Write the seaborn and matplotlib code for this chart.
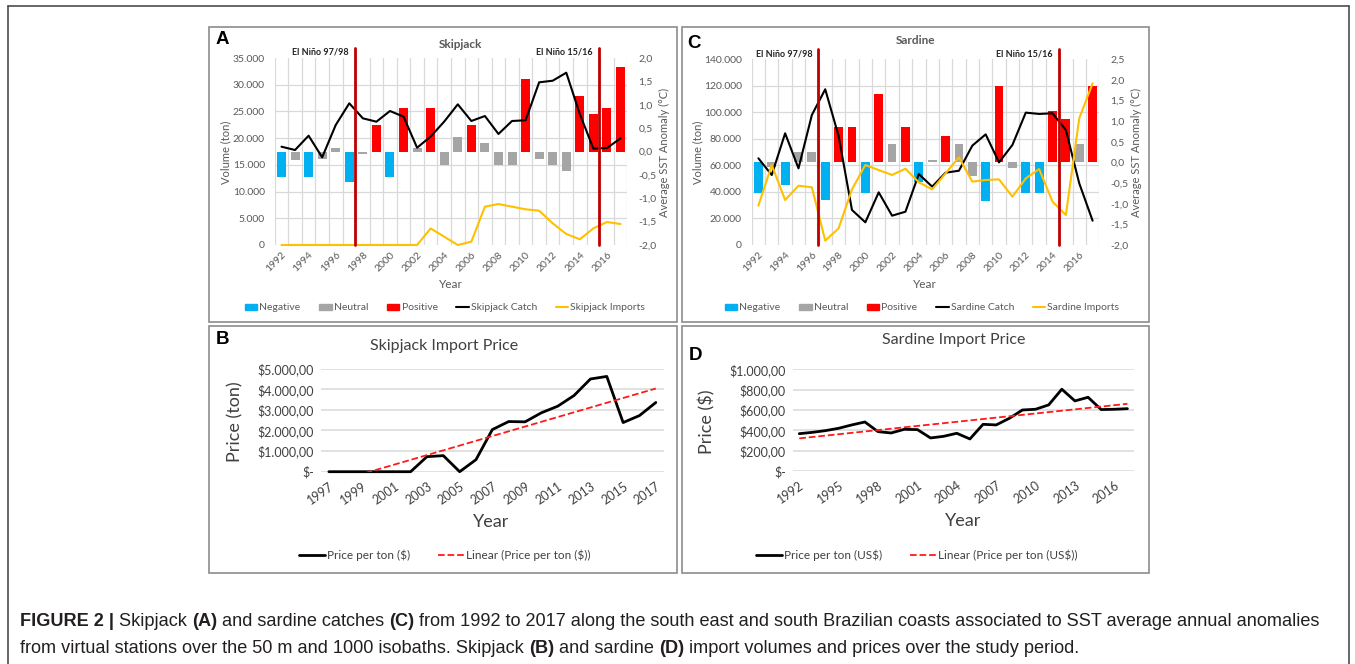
import numpy as np
import pandas as pd
import matplotlib
matplotlib.use("Agg")
import matplotlib.pyplot as plt
import seaborn as sns
from matplotlib.patches import Patch, Rectangle
from matplotlib.lines import Line2D
from matplotlib.ticker import FuncFormatter

# ---- data ----
years = np.arange(1992, 2018)
classes = ['Negative', 'Neutral', 'Positive']

skj_anom = [-0.54, -0.18, -0.54, -0.17, 0.08, -0.66, -0.05, 0.56, -0.54, 0.94, 0.08, 0.94, -0.29,
            0.32, 0.56, 0.19, -0.29, -0.29, 1.56, -0.16, -0.29, -0.41, 1.19, 0.81, 0.94, 1.81]
skj_class = ['Negative', 'Neutral', 'Negative', 'Neutral', 'Neutral', 'Negative', 'Neutral', 'Positive',
             'Negative', 'Positive', 'Neutral', 'Positive', 'Neutral', 'Neutral', 'Positive', 'Neutral',
             'Neutral', 'Neutral', 'Positive', 'Neutral', 'Neutral', 'Neutral', 'Positive', 'Positive',
             'Positive', 'Positive']
skj_catch = [18400, 17780, 20460, 16410, 22460, 26520, 23710, 23080, 25080, 24020, 18210, 20300, 23100,
             26330, 23210, 24140, 20780, 23210, 23340, 30450, 30750, 32250, 24500, 18030, 18150, 19960]
skj_imports = [0, 0, 0, 0, 0, 0, 0, 0, 0, 0, 0, 3100, 1550, 0, 620, 7170, 7670, 7170, 6680, 6420,
               4050, 2060, 1060, 3120, 4300, 3930]

sar_anom = [-0.73, -0.10, -0.55, 0.26, 0.26, -0.92, 0.85, 0.85, -0.73, 1.66, 0.45, 0.85, -0.48,
            0.06, 0.65, 0.45, -0.34, -0.93, 1.85, -0.14, -0.73, -0.73, 1.25, 1.05, 0.45, 1.85]
sar_class = ['Negative', 'Neutral', 'Negative', 'Neutral', 'Neutral', 'Negative', 'Positive', 'Positive',
             'Negative', 'Positive', 'Neutral', 'Positive', 'Negative', 'Neutral', 'Positive', 'Neutral',
             'Neutral', 'Negative', 'Positive', 'Neutral', 'Negative', 'Negative', 'Positive', 'Positive',
             'Neutral', 'Positive']
sar_catch = [65360, 52770, 84200, 57800, 98000, 117400, 82200, 26400, 17100, 39700, 22100, 25100, 53500,
             44000, 54500, 56000, 74900, 83400, 62300, 75400, 99800, 98800, 99300, 86700, 46500, 18300]
sar_imports = [29650, 60300, 33900, 44700, 43500, 3300, 12550, 41950, 60300, 56500, 52800, 57500, 47250,
               41950, 54000, 66100, 47800, 49000, 49500, 36400, 50200, 57300, 32700, 22600, 95500, 121900]

skj_price_years = np.arange(1997, 2018)
skj_price = [0, 0, 0, 0, 0, 0, 730, 780, 0, 585, 2045, 2435, 2420, 2860, 3180, 3700, 4500, 4625,
             2385, 2725, 3360]

sar_price_years = np.arange(1992, 2018)
sar_price = [367, 380, 397, 420, 453, 482, 387, 374, 410, 407, 325, 341, 371, 315, 459, 453, 518,
             600, 607, 650, 804, 689, 725, 604, 607, 613]

# ---- style ----
sns.set_theme(style='white')
plt.rcParams['font.family'] = ['Lato', 'DejaVu Sans']

W, H = 1355, 664
fig = plt.figure(figsize=(W / 100, H / 100), dpi=100)

GRAY_TXT = '#595959'
DARK_TXT = '#404040'
GRID = '#D9D9D9'
palette = {'Negative': '#00B0F0', 'Neutral': '#A5A5A5', 'Positive': '#FF0000'}


def px_rect(x0, y0, x1, y1):
    return [x0 / W, 1 - y1 / H, (x1 - x0) / W, (y1 - y0) / H]


def ftext(x, y, s, **kw):
    return fig.text(x / W, 1 - y / H, s, **kw)


def thousands(v, pos=None):
    return f"{v:,.0f}".replace(',', '.')


def one_dec(v, pos=None):
    return f"{v:.1f}".replace('.', ',')


def dollars(v, pos=None):
    if abs(v) < 1e-9:
        return '$-'
    s = f"${v:,.2f}"
    return s.replace(',', 'X').replace('.', ',').replace('X', '.')


def catch_panel(rect, anom, cls, catch, imports, vmax, amin, amax, ninos):
    ax = fig.add_axes(px_rect(*rect))
    df = pd.DataFrame({'year': years, 'anomaly': anom, 'class': cls})
    sns.barplot(data=df, x='year', y='anomaly', hue='class', hue_order=classes, palette=palette,
                dodge=False, width=0.66, saturation=1, linewidth=0, errorbar=None, legend=False, ax=ax)
    ax2 = ax.twinx()
    pos = np.arange(len(years))
    sns.lineplot(x=pos, y=catch, color='black', lw=1.5, ax=ax2, clip_on=False)
    sns.lineplot(x=pos, y=imports, color='#FFC000', lw=1.5, ax=ax2, clip_on=False)

    ax.set_ylim(amin, amax)
    ax2.set_ylim(0, vmax)
    ax.set_xlim(-0.5, len(years) - 0.5)
    ax2.set_xlim(-0.5, len(years) - 0.5)

    # anomaly axis on the right, volume axis on the left
    ax.yaxis.tick_right()
    ax.yaxis.set_label_position('right')
    ax2.yaxis.tick_left()
    ax2.yaxis.set_label_position('left')
    ax.set_yticks(np.arange(amin, amax + 0.01, 0.5))
    ax.yaxis.set_major_formatter(FuncFormatter(one_dec))
    ax2.set_yticks(np.linspace(0, vmax, 8))
    ax2.yaxis.set_major_formatter(FuncFormatter(thousands))

    # gridlines (drawn below the bars, following the volume axis)
    ax.set_axisbelow(True)
    ax.set_yticks(amin + (amax - amin) * np.linspace(0, 1, 8), minor=True)
    ax.set_xticks(np.arange(-0.5, len(years)), minor=True)
    ax.grid(which='minor', color=GRID, lw=0.9)
    ax.grid(which='major', visible=False)

    ax.set_xticks(pos[::2])
    ax.set_xticklabels(years[::2], rotation=45, ha='right', rotation_mode='anchor')
    ax.tick_params(which='both', length=0)
    ax.tick_params(axis='x', labelsize=7.5, labelcolor=GRAY_TXT, pad=4)
    ax.tick_params(axis='y', labelsize=7.5, labelcolor=GRAY_TXT, pad=8)
    ax2.tick_params(axis='y', length=0, labelsize=7.5, labelcolor=GRAY_TXT, pad=7)
    for a in (ax, ax2):
        a.set_xlabel('')
        a.set_ylabel('')
        for sp in a.spines.values():
            sp.set_visible(False)

    trans = ax2.get_xaxis_transform()
    for x, label in ninos:
        ax2.axvline(x, ymin=0, ymax=1.055, color='#C00000', lw=2, clip_on=False)
        ax2.text(x - 0.45, 1.03, label, transform=trans, ha='right', va='center',
                 fontsize=6.5, fontweight='bold', color='#222222')
    return ax, ax2


def price_panel(rect, yrs, price, ymax, step, xstep):
    ax = fig.add_axes(px_rect(*rect))
    sns.lineplot(x=yrs, y=price, color='black', lw=2, ax=ax, clip_on=False)
    sns.regplot(x=yrs, y=price, scatter=False, ci=None, truncate=True, ax=ax,
                line_kws=dict(color='#FF1A1A', ls='--', lw=1.3))
    ax.set_xlim(yrs[0] - 0.5, yrs[-1] + 0.5)
    ax.set_ylim(0, ymax)
    ax.set_yticks(np.arange(0, ymax + 1, step))
    ax.yaxis.set_major_formatter(FuncFormatter(dollars))
    ax.set_xticks(yrs[::xstep])
    ax.set_xticklabels(yrs[::xstep], rotation=35, ha='right', rotation_mode='anchor')
    ax.grid(axis='y', color=GRID, lw=1.1)
    ax.grid(axis='x', visible=False)
    ax.tick_params(length=0, labelsize=9, labelcolor=DARK_TXT)
    ax.tick_params(axis='x', pad=6)
    ax.tick_params(axis='y', pad=5)
    ax.set_xlabel('')
    ax.set_ylabel('')
    for sp in ax.spines.values():
        sp.set_visible(False)
    return ax


# ---- panel A ----
catch_panel((274.7, 58, 627.3, 245), skj_anom, skj_class, skj_catch, skj_imports,
            35000, -2.0, 2.0, [(5.42, 'El Niño 97/98'), (23.42, 'El Niño 15/16')])
# ---- panel C ----
catch_panel((751.7, 59.3, 1099.3, 245), sar_anom, sar_class, sar_catch, sar_imports,
            140000, -2.0, 2.5, [(4.47, 'El Niño 97/98'), (22.48, 'El Niño 15/16')])
# ---- panel B ----
price_panel((320.7, 368.7, 664, 471.7), skj_price_years, skj_price, 5000, 1000, 2)
# ---- panel D ----
price_panel((792.7, 369.3, 1134, 471), sar_price_years, sar_price, 1000, 200, 3)

# panel texts
for x, y, s in [(460, 45, 'Skipjack'), (916, 41, 'Sardine')]:
    ftext(x, y, s, ha='center', va='center', fontsize=8.5, fontweight='bold', color=GRAY_TXT)
for x in (226, 698):
    ftext(x, 152, 'Volume (ton)', rotation=90, ha='center', va='center', fontsize=8, color=GRAY_TXT)
for x in (664, 1136):
    ftext(x, 152, 'Average SST Anomaly (°C)', rotation=90, ha='center', va='center', fontsize=8,
          color=GRAY_TXT)
for x in (451, 925):
    ftext(x, 285, 'Year', ha='center', va='center', fontsize=8.5, color=GRAY_TXT)

ftext(444, 346, 'Skipjack Import Price', ha='center', va='center', fontsize=11.5, color=DARK_TXT)
ftext(954, 340, 'Sardine Import Price', ha='center', va='center', fontsize=11.5, color=DARK_TXT)
ftext(235, 422, 'Price (ton)', rotation=90, ha='center', va='center', fontsize=13, color=DARK_TXT)
ftext(707, 422, 'Price ($)', rotation=90, ha='center', va='center', fontsize=13, color=DARK_TXT)
ftext(491, 522, 'Year', ha='center', va='center', fontsize=13, color=DARK_TXT)
ftext(963, 521, 'Year', ha='center', va='center', fontsize=13, color=DARK_TXT)

for x, y, s in [(216, 40, 'A'), (687, 44, 'C'), (216, 339, 'B'), (689, 356, 'D')]:
    ftext(x, y, s, ha='left', va='center', fontsize=13.5, fontweight='bold', color='black',
          family=['Liberation Sans', 'DejaVu Sans'])

# legends
for cx, name in [(445, 'Skipjack'), (922, 'Sardine')]:
    handles = [Patch(color=palette[c], label=c) for c in classes]
    handles += [Line2D([], [], color='black', lw=1.5, label=f'{name} Catch'),
                Line2D([], [], color='#FFC000', lw=1.5, label=f'{name} Imports')]
    leg = fig.legend(handles=handles, loc='center', bbox_to_anchor=(cx / W, 1 - 308 / H), ncol=5,
                     frameon=False, fontsize=7.5, handlelength=1.2, handleheight=0.6,
                     handletextpad=0.2, columnspacing=1.8)
    for t in leg.get_texts():
        t.set_color(GRAY_TXT)

for cx, lab in [(445, 'Price per ton ($)'), (917, 'Price per ton (US$)')]:
    handles = [Line2D([], [], color='black', lw=2, label=lab),
               Line2D([], [], color='#FF1A1A', lw=1.3, ls='--', label=f'Linear ({lab})')]
    leg = fig.legend(handles=handles, loc='center', bbox_to_anchor=(cx / W, 1 - 555 / H), ncol=2,
                     frameon=False, fontsize=8.5, handlelength=2.2, handletextpad=0.15,
                     columnspacing=2.4)
    for t in leg.get_texts():
        t.set_color(DARK_TXT)

# panel boxes and outer frame
for x0, y0, x1, y1 in [(209.5, 27, 676.5, 322), (681.5, 27, 1148.5, 322),
                       (209.5, 326, 676.5, 572.5), (681.5, 326, 1148.5, 572.5)]:
    fig.add_artist(Rectangle((x0 / W, 1 - y1 / H), (x1 - x0) / W, (y1 - y0) / H, fill=False,
                             transform=fig.transFigure, edgecolor='#8C8C8C', lw=1.2))
for xs, ys in [([8, 1349], [6, 6]), ([8, 8], [6, 664]), ([1349, 1349], [6, 664])]:
    fig.add_artist(Line2D([x / W for x in xs], [1 - y / H for y in ys], transform=fig.transFigure,
                          color='#4D4D4D', lw=1.2))

# caption with bold fragments, sized so the first line spans the reference width
renderer = fig.canvas.get_renderer()
cap_font = ['Liberation Sans', 'DejaVu Sans']


def rich_line(x, y, parts, size):
    texts = []
    for s, bold in parts:
        t = ftext(x, y, s, ha='left', va='baseline', fontsize=size, color='#231F20',
                  fontweight='bold' if bold else 'normal', family=cap_font)
        x += t.get_window_extent(renderer).width
        texts.append(t)
    return texts, x


line1 = [('FIGURE 2 |', True), (' Skipjack ', False), ('(A)', True), (' and sardine catches ', False),
         ('(C)', True), (' from 1992 to 2017 along the south east and south Brazilian coasts associated to '
                         'SST average annual anomalies', False)]
line2 = [('from virtual stations over the 50 m and 1000 isobaths. Skipjack ', False), ('(B)', True),
         (' and sardine ', False), ('(D)', True),
         (' import volumes and prices over the study period.', False)]
probe, end = rich_line(20, 626, line1, 12)
for t in probe:
    t.remove()
cap_size = 12 * (1323 - 20) / (end - 20)
rich_line(20, 626, line1, cap_size)
rich_line(20, 653, line2, cap_size)

fig.savefig('out.png', dpi=100)
